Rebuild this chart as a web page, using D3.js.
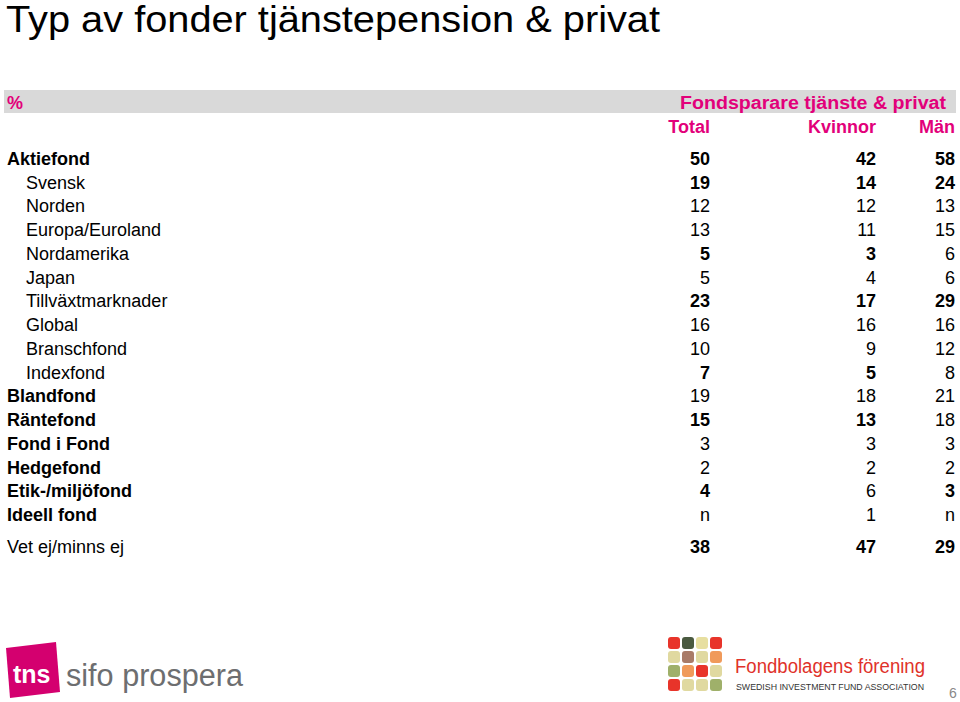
<!DOCTYPE html>
<html><head><meta charset="utf-8">
<script src="https://cdn.jsdelivr.net/npm/d3@7"></script>
<style>body{margin:0;background:#fff}</style></head>
<body><svg id="c" width="960" height="702"></svg>
<script>
// rows: label, indent, label bold, values, bold flags
var labels = ['Aktiefond','Svensk','Norden','Europa/Euroland','Nordamerika','Japan','Tillväxtmarknader','Global','Branschfond','Indexfond','Blandfond','Räntefond','Fond i Fond','Hedgefond','Etik-/miljöfond','Ideell fond','Vet ej/minns ej'];
var indent = [0,1,1,1,1,1,1,1,1,1,0,0,0,0,0,0,0];
var labelBold = [1,0,0,0,0,0,0,0,0,0,1,1,1,1,1,1,0];
var total   = ['50','19','12','13','5','5','23','16','10','7','19','15','3','2','4','n','38'];
var kvinnor = ['42','14','12','11','3','4','17','16','9','5','18','13','3','2','6','1','47'];
var man     = ['58','24','13','15','6','6','29','16','12','8','21','18','3','2','3','n','29'];
var totalBold   = [1,1,0,0,1,0,1,0,0,1,0,1,0,0,1,0,1];
var kvinnorBold = [1,1,0,0,1,0,1,0,0,1,0,1,0,0,0,0,1];
var manBold     = [1,1,0,0,0,0,1,0,0,0,0,0,0,0,1,0,1];
var columns = ['Total','Kvinnor','Män'];

var svg = d3.select('#c');
var F = 'Liberation Sans, Arial, sans-serif';
var pink = '#e2007a';

svg.append('text').attr('x',6).attr('y',32).attr('font-family',F).attr('font-size',36)
  .attr('textLength',654).attr('lengthAdjust','spacingAndGlyphs').text('Typ av fonder tjänstepension & privat');

svg.append('rect').attr('x',4).attr('y',90).attr('width',952).attr('height',23).attr('fill','#d9d9d9');
svg.append('text').attr('x',7).attr('y',109).attr('font-family',F).attr('font-size',18).attr('font-weight','bold').attr('fill',pink).text('%');
svg.append('text').attr('x',946).attr('y',109).attr('text-anchor','end').attr('font-family',F).attr('font-size',18).attr('font-weight','bold').attr('fill',pink)
  .attr('textLength',266).attr('lengthAdjust','spacingAndGlyphs').text('Fondsparare tjänste & privat');

var colX = d3.scaleOrdinal().domain(columns).range([710,876,955]);
columns.forEach(function(c){
  svg.append('text').attr('x',colX(c)).attr('y',133).attr('text-anchor','end').attr('font-family',F).attr('font-size',18).attr('font-weight','bold').attr('fill',pink).text(c);
});

var y = d3.scaleLinear().domain([0,15]).range([165,521]);
function rowY(i){ return i < 16 ? y(i) : y(15) + 32; }

var g = svg.append('g').attr('font-family',F).attr('font-size',18).attr('fill','#000');
labels.forEach(function(l,i){
  g.append('text').attr('x', indent[i] ? 26 : 7).attr('y', rowY(i)).attr('font-weight', labelBold[i]?'bold':'normal').text(l);
  [[total,totalBold],[kvinnor,kvinnorBold],[man,manBold]].forEach(function(s,j){
    g.append('text').attr('x',colX(columns[j])).attr('y',rowY(i)).attr('text-anchor','end')
      .attr('font-weight', s[1][i]?'bold':'normal').text(s[0][i]);
  });
});

// tns sifo prospera logo
var lg = svg.append('g');
lg.append('path').attr('d','M6,648 L56,642 L60,692 L10,698 Z').attr('fill','#d4006f');
lg.append('text').attr('x',13).attr('y',683).attr('font-family',F).attr('font-size',25).attr('font-weight','bold').attr('fill','#fff').text('tns');
lg.append('text').attr('x',66).attr('y',686).attr('font-family',F).attr('font-size',31).attr('fill','#6d6e70')
  .attr('textLength',177).attr('lengthAdjust','spacingAndGlyphs').text('sifo prospera');

// Fondbolagens logo grid
var gridColors = ['#e8342a','#4a5a40','#e7dfa0','#e8342a','#e0d9a0','#a97b68','#e0d9a0','#f09a5a','#9fb06a','#f09a5a','#e8342a','#e0d9a0','#e8342a','#e0d9a0','#e0d9a0','#9fb06a'];
gridColors.forEach(function(c,k){
  svg.append('rect').attr('x',668+(k%4)*14).attr('y',637+Math.floor(k/4)*14).attr('width',12).attr('height',12).attr('rx',3).attr('fill',c);
});
svg.append('text').attr('x',735).attr('y',673).attr('font-family',F).attr('font-size',20).attr('fill','#e0322a')
  .attr('textLength',190).attr('lengthAdjust','spacingAndGlyphs').text('Fondbolagens förening');
svg.append('text').attr('x',736).attr('y',690).attr('font-family',F).attr('font-size',8.5).attr('fill','#333')
  .attr('textLength',188).attr('lengthAdjust','spacingAndGlyphs').text('SWEDISH INVESTMENT FUND ASSOCIATION');
svg.append('text').attr('x',949).attr('y',698).attr('font-family',F).attr('font-size',14).attr('fill','#888').text('6');
</script></body></html>
